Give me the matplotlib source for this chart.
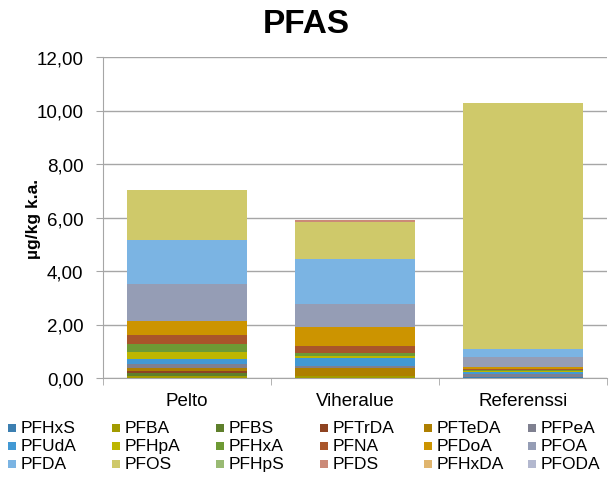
import matplotlib
matplotlib.use("Agg")
import matplotlib.pyplot as plt
from matplotlib.patches import Rectangle
from matplotlib.ticker import FixedLocator, FuncFormatter
import numpy as np

plt.rcParams['font.family'] = ['Liberation Sans', 'DejaVu Sans']

categories = ["Pelto", "Viheralue", "Referenssi"]
series = ["PFHxS", "PFBA", "PFBS", "PFTrDA", "PFTeDA", "PFPeA",
          "PFUdA", "PFHpA", "PFHxA", "PFNA", "PFDoA", "PFOA",
          "PFDA", "PFOS", "PFHpS", "PFDS", "PFHxDA", "PFODA"]

PFHxS = [0.01, 0.01, 0.02]
PFBA = [0.08, 0.07, 0.02]
PFBS = [0.09, 0.01, 0.00]
PFTrDA = [0.07, 0.00, 0.00]
PFTeDA = [0.12, 0.27, 0.00]
PFPeA = [0.14, 0.08, 0.12]
PFUdA = [0.19, 0.32, 0.05]
PFHpA = [0.27, 0.07, 0.04]
PFHxA = [0.30, 0.10, 0.04]
PFNA = [0.35, 0.28, 0.06]
PFDoA = [0.52, 0.70, 0.05]
PFOA = [1.37, 0.84, 0.37]
PFDA = [1.65, 1.70, 0.30]
PFOS = [1.87, 1.37, 9.21]
PFHpS = [0.00, 0.00, 0.00]
PFDS = [0.00, 0.07, 0.00]
PFHxDA = [0.00, 0.00, 0.00]
PFODA = [0.00, 0.00, 0.00]

values = [PFHxS, PFBA, PFBS, PFTrDA, PFTeDA, PFPeA, PFUdA, PFHpA, PFHxA,
          PFNA, PFDoA, PFOA, PFDA, PFOS, PFHpS, PFDS, PFHxDA, PFODA]

colors = ["#3C7FB1", "#A29B00", "#5E7F2B", "#8E4321", "#AE7F00", "#7F8090",
          "#4299D4", "#BDB600", "#6E9A34", "#A9552A", "#CC9400", "#959DB5",
          "#7BB4E3", "#CFC96A", "#99BA73", "#CB8A78", "#E0B56E", "#B3B8CF"]

W, H = 612, 481
fig = plt.figure(figsize=(W / 100, H / 100), dpi=100)
ax = fig.add_axes([103 / W, 1 - 379 / H, 504 / W, 321 / H])

x = np.arange(len(categories))
bottom = np.zeros(len(categories))
for name, vals, col in zip(series, values, colors):
    v = np.array(vals)
    ax.bar(x, v, 0.71, bottom=bottom, color=col, label=name, zorder=3)
    bottom += v

ax.set_xlim(-0.5, 2.5)
ax.set_ylim(0, 12)
ax.set_yticks(np.arange(0, 12.01, 2))
ax.yaxis.set_major_formatter(FuncFormatter(lambda v, p: f"{v:.2f}".replace(".", ",")))
ax.yaxis.grid(True, color="#A6A6A6", linewidth=1.0, zorder=0)
ax.set_axisbelow(True)

ax.set_xticks(x)
ax.set_xticklabels(categories, fontsize=13.5)
ax.xaxis.set_minor_locator(FixedLocator([-0.5, 0.5, 1.5, 2.5]))
ax.tick_params(axis='x', which='major', length=0, pad=10)
ax.tick_params(axis='x', which='minor', length=5, color="#A6A6A6", direction='out')
ax.tick_params(axis='y', length=5, color="#A6A6A6", labelsize=13.5, pad=9)

for s in ["top", "right"]:
    ax.spines[s].set_visible(False)
for s in ["left", "bottom"]:
    ax.spines[s].set_color("#A6A6A6")

ax.set_ylabel("µg/kg k.a.", fontsize=12.5, fontweight="bold")
ax.yaxis.set_label_coords((41 - 103) / 504, 0.5)

fig.text(0.5, 1 - 24.7 / H, "PFAS", ha="center", va="center", fontsize=24, fontweight="bold")

# Legend: 3 rows x 6 columns, row-major like the original
msz = 8
for k, (name, col) in enumerate(zip(series, colors)):
    i, j = divmod(k, 6)
    mx = 8 + 104 * j
    my = 429 + 18 * i
    fig.add_artist(Rectangle(((mx) / W, 1 - (my + msz / 2) / H), msz / W, msz / H,
                             transform=fig.transFigure, facecolor=col, edgecolor="none"))
    fig.text((mx + 13) / W, 1 - my / H, name, ha="left", va="center", fontsize=12.5)

fig.savefig("out.png", dpi=100)
